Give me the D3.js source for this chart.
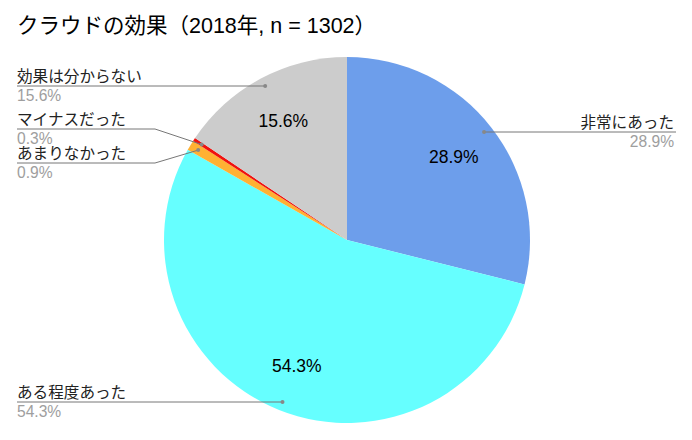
<!DOCTYPE html>
<html><head><meta charset="utf-8">
<script src="https://cdn.jsdelivr.net/npm/d3@7"></script>
<style>
body{margin:0;background:#fff;}
text{font-family:"Liberation Sans",Arial,"Noto Sans CJK JP",sans-serif;}
</style></head>
<body>
<svg id="c" width="692" height="440"></svg>
<script>
const title = "クラウドの効果（2018年, n = 1302）";
const categories = ["非常にあった","ある程度あった","あまりなかった","マイナスだった","効果は分からない"];
const values = [28.9, 54.3, 0.9, 0.3, 15.6];
const colors = ["#6d9eeb","#66ffff","#ffb133","#f0120f","#cccccc"];
const showInside = [true, true, false, false, true];

// layout for outside labels (side, line y, elbow x)
const labelLayout = [
  {side:"right", lineY:132, elbowX:null},
  {side:"left",  lineY:402, elbowX:null},
  {side:"left",  lineY:163, elbowX:155},
  {side:"left",  lineY:129, elbowX:155},
  {side:"left",  lineY:86,  elbowX:null}
];

const W=692,H=440, cx=347, cy=240, R=183;
const svg=d3.select("#c");
svg.append("rect").attr("width",W).attr("height",H).attr("fill","#fff");

svg.append("text").attr("x",17).attr("y",33).attr("font-size",21.5).attr("fill","#000").text(title);

const data = categories.map((c,i)=>({name:c,value:values[i],color:colors[i],inside:showInside[i],lay:labelLayout[i]}));
const pie = d3.pie().value(d=>d.value).sort(null);
const arcs = pie(data);
const arc = d3.arc().innerRadius(0).outerRadius(R);
const g = svg.append("g").attr("transform",`translate(${cx},${cy})`);
g.selectAll("path").data(arcs).join("path").attr("d",arc).attr("fill",d=>d.data.color);

const inArc = d3.arc().innerRadius(R*0.74).outerRadius(R*0.74);
g.selectAll("text.in").data(arcs.filter(a=>a.data.inside)).join("text")
  .attr("class","in")
  .attr("transform",d=>`translate(${inArc.centroid(d)})`)
  .attr("text-anchor","middle").attr("dy","0.36em")
  .attr("font-size",17.5).attr("fill","#000")
  .text(d=>d.data.value.toFixed(1)+"%");

const dotArc = d3.arc().innerRadius(R*0.95).outerRadius(R*0.95);
const lg = svg.append("g");
arcs.forEach(a=>{
  const [dx,dy]=dotArc.centroid(a);
  const px=cx+dx, py=cy+dy;
  const L=a.data.lay;
  let pts, dot;
  if(L.side==="right"){
    pts=[[px,L.lineY],[676,L.lineY]]; dot=[px,L.lineY];
  } else if(L.elbowX!==null){
    pts=[[17,L.lineY],[L.elbowX,L.lineY],[px,py]]; dot=[px,py];
  } else {
    pts=[[17,L.lineY],[px,L.lineY]]; dot=[px,L.lineY];
  }
  lg.append("path").attr("d",d3.line()(pts)).attr("fill","none").attr("stroke","#777").attr("stroke-width",1);
  lg.append("circle").attr("cx",dot[0]).attr("cy",dot[1]).attr("r",2).attr("fill","#888");
  const tx = L.side==="right"?674:17;
  const anchor = L.side==="right"?"end":"start";
  lg.append("text").attr("x",tx).attr("y",L.lineY-4.5).attr("text-anchor",anchor)
    .attr("font-size",15.6).attr("fill","#222").text(a.data.name);
  lg.append("text").attr("x",tx).attr("y",L.lineY+14.5).attr("text-anchor",anchor)
    .attr("font-size",15.6).attr("fill","#9e9e9e").text(a.data.value.toFixed(1)+"%");
});
</script>
</body></html>
